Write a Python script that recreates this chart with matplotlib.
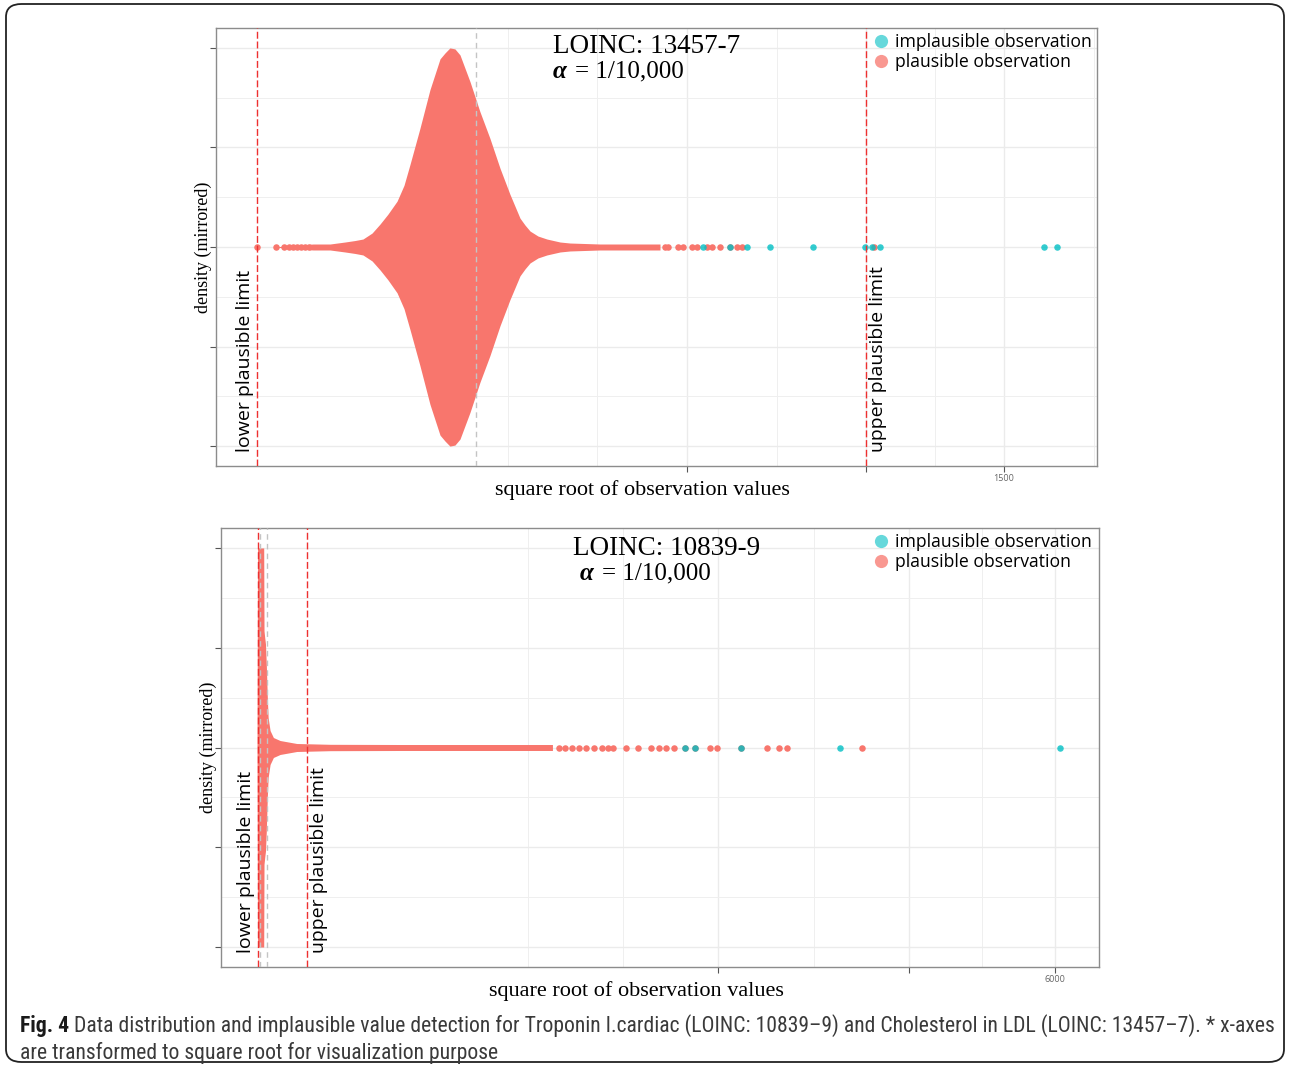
import numpy as np
import matplotlib.pyplot as plt
from matplotlib import font_manager
from matplotlib.lines import Line2D
from matplotlib.patches import FancyBboxPatch

plt.rcParams['font.family'] = ['Liberation Serif', 'DejaVu Serif']

RED = '#F8766D'
CYAN = '#00BFC4'
SANS = ['Open Sans', 'DejaVu Sans']
SERIF = ['Liberation Serif', 'DejaVu Serif']

# ---- panel 1: LOINC 13457-7 (x in square-root units) ----
top_dens_x = [1.0, 3.05, 3.93, 4.70, 5.22, 5.63, 6.10, 6.51, 6.92, 7.39, 7.75, 8.06, 8.57,
              9.09, 9.61, 9.87, 10.12, 10.38, 10.64, 11.16, 11.67, 12.19, 12.71, 13.22,
              13.74, 14.0, 14.26, 14.67, 15.13, 15.81, 16.32, 17.87, 20.97]
top_dens_y = [0.0, 0.015, 0.015, 0.025, 0.0325, 0.04, 0.07, 0.115, 0.165, 0.23, 0.31, 0.415,
              0.595, 0.79, 0.945, 0.975, 1.0, 0.995, 0.965, 0.83, 0.68, 0.545, 0.395, 0.265,
              0.145, 0.11, 0.08, 0.055, 0.04, 0.025, 0.02, 0.015, 0.015]
top_plausible = [0.14, 1.14, 1.55, 1.82, 2.03, 2.24, 2.44, 2.63, 2.84,
                 21.23, 21.40, 21.92, 22.17, 22.61, 22.87, 23.38, 23.64, 24.07,
                 24.59, 24.93, 25.19, 32.04]
top_implausible = [23.18, 24.59, 25.48, 26.65, 28.89, 31.58, 31.92, 32.33, 40.82, 41.46]
top_lower = 0.14
top_upper = 31.6
top_ref = [11.47]
top_major = [500, 1000, 1500]
top_xlim = (-1.96, 43.54)

# ---- panel 2: LOINC 10839-9 ----
bot_dens_x = [-0.1, -0.05, 0.55, 0.58, 0.65, 0.72, 0.8, 0.9, 0.98, 1.17, 1.49, 2.14,
              3.76, 7.0, 13.8, 21.6, 28.6]
bot_dens_y = [0.0, 1.0, 1.0, 0.585, 0.55, 0.52, 0.42, 0.25, 0.15, 0.085, 0.05, 0.035,
              0.02, 0.016, 0.015, 0.015, 0.015]
bot_plausible = [29.23, 29.79, 30.52, 31.19, 31.86, 32.63, 33.41, 33.97, 34.53, 35.76,
                 36.87, 38.15, 38.99, 39.66, 40.39, 41.51, 42.45, 43.91, 44.57, 46.92,
                 49.48, 50.59, 51.38, 58.63]
bot_implausible = [41.51, 42.45, 46.92, 56.57, 77.87]
bot_lower = 0.0
bot_upper = 4.73
bot_ref = [0.2, 0.85]
bot_major = [2000, 4000, 6000]
bot_xlim = (-3.6, 81.7)

panels = [
    dict(rect=[216/1290, 1-466/1071, 881/1290, 438/1071], dx=top_dens_x, dy=top_dens_y,
         plaus=top_plausible, implaus=top_implausible, lower=top_lower, upper=top_upper,
         ref=top_ref, major=top_major, xlim=top_xlim, title='LOINC: 13457-7',
         tpos=(0.3825, 0.958), apos=(0.3825, 0.9), epos=(0.407, 0.9), leg=1.0,
         xlab=0.4835),
    dict(rect=[221/1290, 1-967/1071, 878/1290, 439/1071], dx=bot_dens_x, dy=bot_dens_y,
         plaus=bot_plausible, implaus=bot_implausible, lower=bot_lower, upper=bot_upper,
         ref=bot_ref, major=bot_major, xlim=bot_xlim, title='LOINC: 10839-9',
         tpos=(0.401, 0.953), apos=(0.409, 0.897), epos=(0.434, 0.897), leg=0.998,
         xlab=0.4727),
]


def minor_breaks(b, lo, hi):
    # ggplot style minor breaks, in transformed space
    b = list(b)
    bd = b[1] - b[0]
    if lo < b[0]:
        b = [b[0] - bd] + b
    if hi > b[-1]:
        b = b + [b[-1] + bd]
    out = []
    for a, c in zip(b[:-1], b[1:]):
        out += [a, (a + c) / 2]
    out.append(b[-1])
    return [m for m in out if lo < m < hi]


fig = plt.figure(figsize=(12.9, 10.71), dpi=100)
fig.patches.append(FancyBboxPatch((6/1290, 9/1071), 1278/1290, 1058/1071,
                                  boxstyle='round,pad=0,rounding_size=0.012',
                                  transform=fig.transFigure, fill=False,
                                  edgecolor='#222222', linewidth=1.3))

for p in panels:
    ax = fig.add_axes(p['rect'])
    major = np.sqrt(p['major'])
    ax.set_xlim(*p['xlim'])
    ax.set_ylim(-1.1, 1.1)

    for m in minor_breaks(major, *p['xlim']):
        ax.axvline(m, color='#EFEFEF', lw=0.7, zorder=0)
    for m in major:
        ax.axvline(m, color='#EBEBEB', lw=1.0, zorder=0)
    for yv in [-0.75, -0.25, 0.25, 0.75]:
        ax.axhline(yv, color='#EFEFEF', lw=0.7, zorder=0)
    for yv in [-1, -0.5, 0, 0.5, 1]:
        ax.axhline(yv, color='#EBEBEB', lw=1.0, zorder=0)

    dx = np.array(p['dx'])
    dy = np.array(p['dy'])
    ax.fill_between(dx, -dy, dy, color=RED, lw=0, zorder=2)
    ax.scatter(p['plaus'], np.zeros(len(p['plaus'])), s=22, color=RED, lw=0, zorder=3)
    ax.scatter(p['implaus'], np.zeros(len(p['implaus'])), s=22, color=CYAN, lw=0,
               alpha=0.8, zorder=4)

    for r in p['ref']:
        ax.axvline(r, color='#C4C4C4', lw=1, ls=(0, (4, 3)), zorder=5)
    ax.axvline(p['lower'], color='#EE3030', lw=1.0, ls=(0, (5, 2)), zorder=6)
    ax.axvline(p['upper'], color='#EE3030', lw=1.0, ls=(0, (5, 2)), zorder=6)

    ax.annotate('lower plausible limit', (p['lower'], -1.03), xytext=(-2, 0),
                textcoords='offset points', rotation=90, ha='right', va='bottom',
                fontsize=14, family=SANS, color='black', zorder=7)
    ax.annotate('upper plausible limit', (p['upper'], -1.03), xytext=(2, 0),
                textcoords='offset points', rotation=90, ha='left', va='bottom',
                fontsize=14, family=SANS, color='black', zorder=7)

    ax.text(*p['tpos'], p['title'], transform=ax.transAxes, fontsize=19.5,
            family=SERIF, va='center', ha='left')
    ax.text(*p['apos'], 'α', transform=ax.transAxes, fontsize=18, family=SERIF,
            weight='bold', style='italic', va='center', ha='left')
    ax.text(*p['epos'], '= 1/10,000', transform=ax.transAxes, fontsize=18,
            family=SERIF, va='center', ha='left')

    ax.set_xticks(major)
    ax.set_xticklabels([''] * (len(major) - 1) + [str(p['major'][-1])],
                       fontsize=6.5, color='#666666', family=SANS)
    ax.set_yticks([-1, -0.5, 0, 0.5, 1])
    ax.set_yticklabels([])
    ax.tick_params(length=4, width=0.8, color='#555555', pad=2)
    for s in ax.spines.values():
        s.set_color('#8C8C8C')
        s.set_linewidth(1.0)

    ax.set_xlabel('square root of observation values', fontsize=16, family=SERIF,
                  labelpad=-2, x=p['xlab'])
    ax.set_ylabel('density (mirrored)', fontsize=13, family=SERIF, labelpad=-3)

    handles = [Line2D([], [], ls='', marker='o', ms=9.5, color=CYAN, alpha=0.6,
                      mec='none'),
               Line2D([], [], ls='', marker='o', ms=9.5, color=RED, alpha=0.75,
                      mec='none')]
    ax.legend(handles, ['implausible observation', 'plausible observation'],
              loc='upper right', bbox_to_anchor=(p['leg'], 1.0), frameon=False,
              prop={'family': SANS, 'size': 12.7}, handletextpad=0.3,
              labelspacing=0.12, borderaxespad=0, borderpad=0.3, handlelength=1.0)

# caption: prefer a narrow sans if one is installed
names = {f.name for f in font_manager.fontManager.ttflist}
CAP = ['Open Sans']
for cand in ['Liberation Sans Narrow', 'Roboto Condensed', 'Open Sans Condensed',
             'Noto Sans Condensed', 'DejaVu Sans Condensed', 'Open Sans']:
    if cand in names:
        CAP = [cand, 'DejaVu Sans']
        break

line1 = ('Data distribution and implausible value detection for Troponin I.cardiac '
         '(LOINC: 10839–9) and Cholesterol in LDL (LOINC: 13457–7). * x-axes')
line2 = 'are transformed to square root for visualization purpose'
y1 = 1 - 1026/1071
y2 = 1 - 1053/1071
r = fig.canvas.get_renderer()


def caption_line(size):
    t1 = fig.text(20/1290, y1, 'Fig. 4', fontsize=size, weight='bold', family=CAP,
                  color='#1A1A1A', va='center')
    bb = t1.get_window_extent(r)
    t2 = fig.text(bb.x1 / fig.bbox.width + 5/1290, y1, line1, fontsize=size,
                  family=CAP, color='#3A3A3A', va='center')
    return t1, t2


# fit the first caption line to the width of the reference
size = 14.0
for _ in range(4):
    t1, t2 = caption_line(size)
    right = t2.get_window_extent(r).x1
    t1.remove()
    t2.remove()
    size *= (1273 - 20) / (right - 20)
caption_line(size)
fig.text(20/1290, y2, line2, fontsize=size, family=CAP, color='#3A3A3A', va='center')

fig.savefig('out.png', dpi=100)
